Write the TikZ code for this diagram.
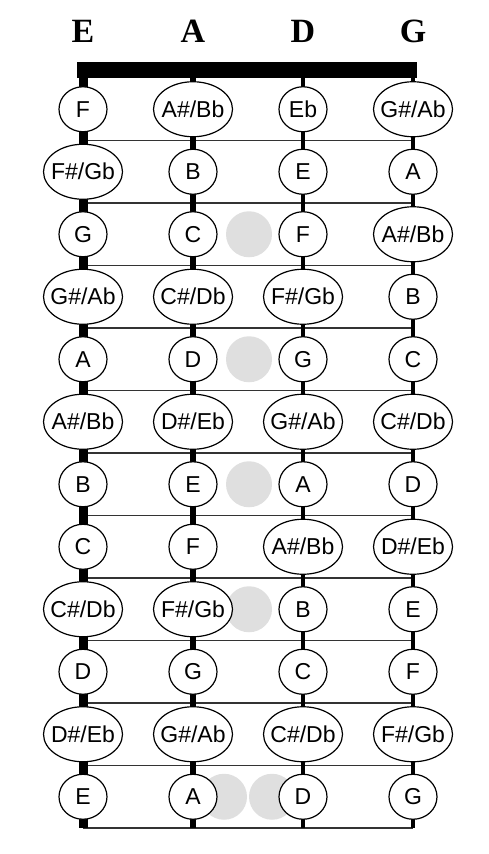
\documentclass[tikz,border=0pt]{standalone}
\usepackage{fontspec}
\setmainfont{Liberation Sans}
\newfontfamily\headfont{Liberation Serif}
\usetikzlibrary{shapes.geometric}

\begin{document}
\begin{tikzpicture}[x=1pt,y=-1pt,
    note/.style={ellipse,draw,fill=white,line width=1.2pt,inner sep=0pt,
      inner xsep=-6pt,minimum width=48,minimum height=45,
      font=\fontsize{23}{23}\selectfont},
    wide/.style={note,minimum width=79,minimum height=55},
    marker/.style={fill=gray!25},
    fret/.style={black!80,line width=1.6pt}]
  \useasboundingbox (0,0) rectangle (489,854);
  % dots between A and D
  \foreach \k in {3,5,7,9}
    \fill[marker] (249,{78+(\k-.5)*62.5}) circle[radius=23];
  \fill[marker] (224,796.75) circle[radius=23];
  \fill[marker] (272,796.75) circle[radius=23];
  \foreach \k in {1,...,12}
    \draw[fret] (83,{78+\k*62.5}) -- (413,{78+\k*62.5});
  \foreach \x/\w in {83/9,193/6.5,303/4.5,413/3.5}
    \draw[line width=\w pt] (\x,78) -- (\x,828);
  \fill (77,62) rectangle (417,78);
  \foreach \s [count=\i from 0] in {E,A,D,G}
    \node[font=\headfont\bfseries\fontsize{34}{34}\selectfont,anchor=base]
      (h\s) at (83+110*\i,42) {\s};
  % notes, string by string
  \foreach \s/\n [count=\k] in {note/F,wide/{F\#/Gb},note/G,wide/{G\#/Ab},
      note/A,wide/{A\#/Bb},note/B,note/C,wide/{C\#/Db},note/D,
      wide/{D\#/Eb},note/E}
    \node[\s] (e\k) at (83,{78+(\k-.5)*62.5}) {\n};
  \foreach \s/\n [count=\k] in {wide/{A\#/Bb},note/B,note/C,wide/{C\#/Db},
      note/D,wide/{D\#/Eb},note/E,note/F,wide/{F\#/Gb},note/G,
      wide/{G\#/Ab},note/A}
    \node[\s] (a\k) at (193,{78+(\k-.5)*62.5}) {\n};
  \foreach \s/\n [count=\k] in {note/Eb,note/E,note/F,wide/{F\#/Gb},
      note/G,wide/{G\#/Ab},note/A,wide/{A\#/Bb},note/B,note/C,
      wide/{C\#/Db},note/D}
    \node[\s] (d\k) at (303,{78+(\k-.5)*62.5}) {\n};
  \foreach \s/\n [count=\k] in {wide/{G\#/Ab},note/A,wide/{A\#/Bb},note/B,
      note/C,wide/{C\#/Db},note/D,wide/{D\#/Eb},note/E,note/F,
      wide/{F\#/Gb},note/G}
    \node[\s] (g\k) at (413,{78+(\k-.5)*62.5}) {\n};
\end{tikzpicture}
\end{document}
